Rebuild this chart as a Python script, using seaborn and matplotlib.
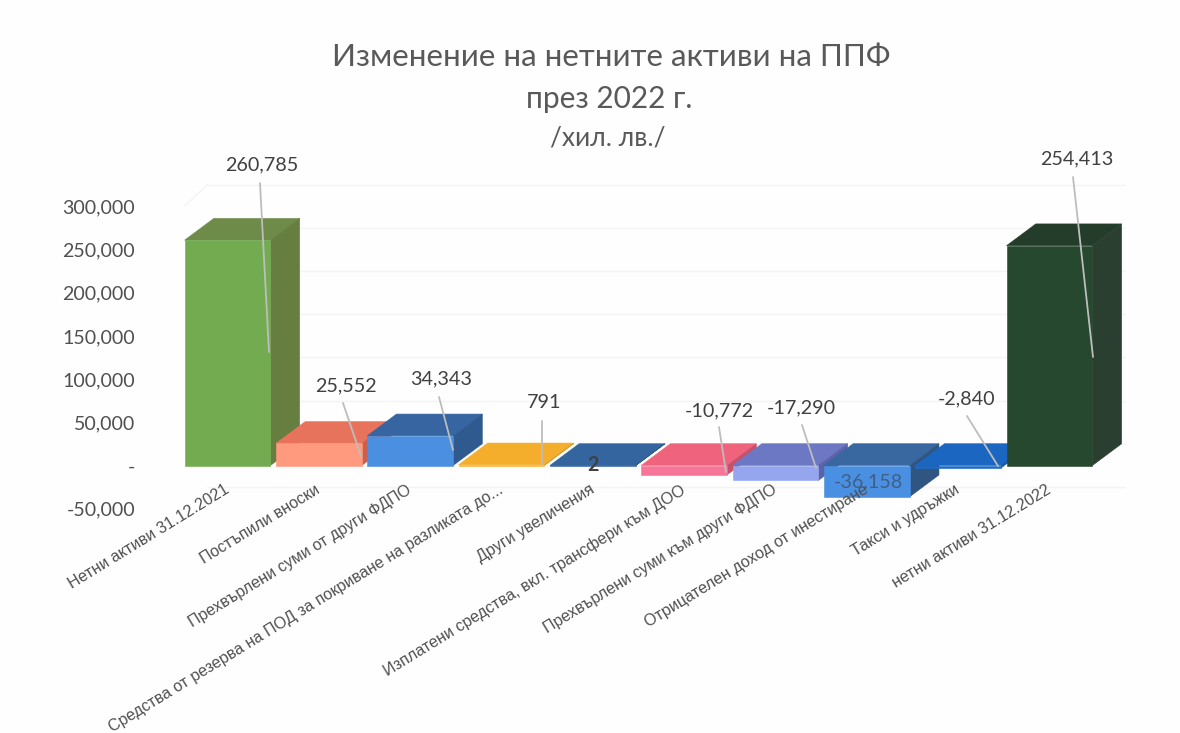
import matplotlib
matplotlib.use("Agg")
import matplotlib.pyplot as plt
import pandas as pd
import seaborn as sns

categories = [
    "Нетни активи 31.12.2021",
    "Постъпили вноски",
    "Прехвърлени суми от други ФДПО",
    "Средства от резерва на ПОД за покриване на разликата до...",
    "Други увеличения",
    "Изплатени средства, вкл. трансфери към ДОО",
    "Прехвърлени суми към други ФДПО",
    "Отрицателен доход от инестиране",
    "Такси и удръжки",
    "нетни активи 31.12.2022",
]
values = [260785, 25552, 34343, 791, 2, -10772, -17290, -36158, -2840, 254413]
value_labels = ["260,785", "25,552", "34,343", "791", "2", "-10,772", "-17,290", "-36,158", "-2,840", "254,413"]
y_ticks = [-50000, 0, 50000, 100000, 150000, 200000, 250000, 300000]
y_tick_labels = ["-50,000", "-", "50,000", "100,000", "150,000", "200,000", "250,000", "300,000"]

front_colors = ["#72AB50", "#FF9A7E", "#4A8FE0", "#F5B02E", "#35659F", "#F8759A", "#95A5EE", "#4A90E2", "#1A6CC8", "#26482E"]
top_colors = ["#6F8B4A", "#E8735C", "#3665A2", "#F5AE2C", "#35659F", "#F0637C", "#6C78C4", "#38689F", "#1A66C0", "#243D2A"]
side_colors = ["#667F40", "#C8604C", "#2F5A90", "#D99A28", "#2D5788", "#C9506A", "#5A62A8", "#2F5580", "#1658A8", "#2B3F30"]

# label centre and leader line in picture pixels (x, y), None = no leader
label_pos = [(262, 165), (346, 386), (441, 379), (544, 403), (593, 465), (719, 411), (801, 408), (868, 482), (967, 399), (1077, 159)]
leaders = [
    ((260, 183), (269, 352)),
    ((343, 403), (361, 456)),
    ((439, 397), (453, 450)),
    ((542, 421), (542, 464)),
    None,
    ((719, 427), (726, 472)),
    ((802, 425), (816, 468)),
    None,
    ((967, 416), (998, 466)),
    ((1073, 177), (1093, 357)),
]

W, H = 1180, 733
STEP = 91.33   # px between bar centres
FIRST = 227.5  # px of first bar centre
# 3D look: how far the back of a bar is shifted
depth_x = 0.32
depth_y = 25200

sns.set_theme(style="white")
plt.rcParams["font.family"] = ["Lato", "DejaVu Sans"]

fig = plt.figure(figsize=(W / 100, H / 100), dpi=100, facecolor="#FEFEFE")
# axes box chosen so that 0 sits at y=465.5 and -50,000 at y=508.7
ax = fig.add_axes([140 / W, 1 - 508.7 / H, (1135 - 140) / W, (508.7 - 183) / H])
ax.patch.set_alpha(0)

df = pd.DataFrame({"category": categories, "value": values})
sns.barplot(data=df, x="category", y="value", hue="category", palette=front_colors,
            saturation=1, width=0.94, legend=False, ax=ax)

ax.set_xlim((140 - FIRST) / STEP, (1135 - FIRST) / STEP)
ax.set_ylim(-50000, (465.5 - 183) / 43.2 * 50000)

# back wall grid
ax.hlines([t + depth_y for t in y_ticks], -0.22, 9.83, color="#F6F3F5", lw=1, zorder=0.5)
ax.plot([-0.47, -0.22], [300000, 300000 + depth_y], color="#F6F3F5", lw=1, zorder=0.5)

bars = sorted(ax.patches, key=lambda p: p.get_x())
for i, bar in enumerate(bars):
    x0, x1 = bar.get_x(), bar.get_x() + bar.get_width()
    top = max(values[i], 0)
    low = min(values[i], 0)
    z = 1 + i * 0.1
    bar.set_zorder(z + 0.05)
    bar.set_clip_on(False)
    bar.set_edgecolor(front_colors[i])
    bar.set_linewidth(0.4)
    ax.fill([x0, x1, x1 + depth_x, x0 + depth_x], [top, top, top + depth_y, top + depth_y],
            color=top_colors[i], lw=0.4, zorder=z, clip_on=False)
    ax.fill([x1, x1 + depth_x, x1 + depth_x, x1], [low, low + depth_y, top + depth_y, top],
            color=side_colors[i], lw=0.4, zorder=z, clip_on=False)

ax.set_axisbelow(False)
ax.set_xlabel("")
ax.set_ylabel("")
ax.set_yticks(y_ticks, y_tick_labels)
ax.set_xticks(range(len(categories)))
ax.set_xticklabels(categories, rotation=31.5, ha="right", va="center", rotation_mode="anchor",
                   family="Liberation Sans", fontsize=11.6, color="#505050")
ax.tick_params(axis="x", length=0, pad=-14.5)
ax.tick_params(axis="y", length=0, pad=3.5, labelsize=14.1, labelcolor="#505050")
sns.despine(ax=ax, left=True, bottom=True)

for i, text in enumerate(value_labels):
    x, y = label_pos[i]
    color = "#3F5F86" if i == 7 else "#404040"
    fig.text(x / W, 1 - y / H, text, ha="center", va="center", fontsize=14.2, color=color,
             fontweight="bold" if i == 4 else "normal", zorder=20)
    if leaders[i] is not None:
        (xa, ya), (xb, yb) = leaders[i]
        fig.add_artist(plt.Line2D([xa / W, xb / W], [1 - ya / H, 1 - yb / H], color="#BDBDBD", lw=1.3))

fig.text(611 / W, 1 - 57 / H, "Изменение на нетните активи на ППФ", ha="center", va="center", fontsize=22.6, color="#595959")
fig.text(609 / W, 1 - 99 / H, "през 2022 г.", ha="center", va="center", fontsize=21.5, color="#595959")
fig.text(608 / W, 1 - 138 / H, "/хил. лв./", ha="center", va="center", fontsize=19, color="#595959")

fig.savefig("out.png", dpi=100, facecolor=fig.get_facecolor())
